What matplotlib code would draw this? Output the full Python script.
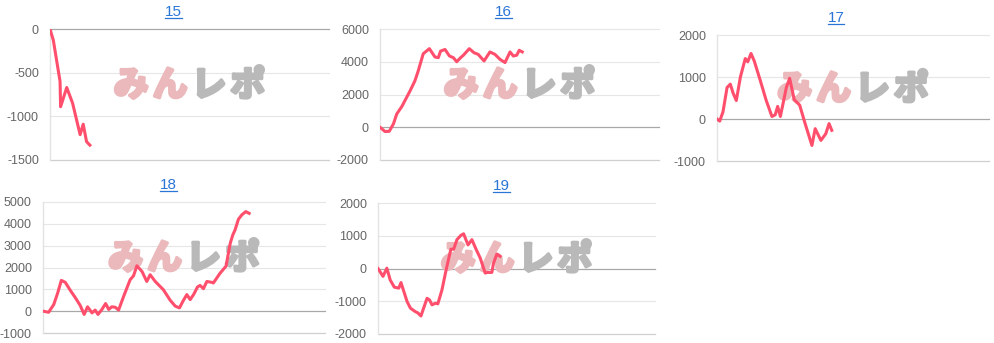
import matplotlib
matplotlib.use("Agg")
import matplotlib.pyplot as plt
from matplotlib.lines import Line2D
import matplotlib.patheffects as pe

plt.rcParams['font.family'] = ['Liberation Sans', 'DejaVu Sans']
plt.rcParams['axes.unicode_minus'] = False

# Datos de cada máquina (x en % del eje, y = diferencia de fichas)
titulos = ["15", "16", "17", "18", "19"]

x15 = [0, 1.2, 3.6, 3.8, 6.0, 8.1, 10.8, 11.9, 13.1, 14.3]
y15 = [0, -130, -600, -890, -670, -850, -1210, -1090, -1290, -1330]

x16 = [0, 1.8, 3.3, 4.8, 6.0, 7.8, 10.8, 12.5, 13.7, 15.5, 17.7, 19.7, 20.9, 21.7,
       23.3, 24.9, 26.3, 27.5, 28.9, 29.9, 32.0, 33.7, 35.2, 37.3, 39.4, 41.2, 43.0,
       44.8, 46.6, 47.8, 49.0, 49.9, 51.0]
y16 = [0, -260, -250, 200, 810, 1260, 2230, 2830, 3440, 4490, 4800, 4290, 4250, 4650,
       4750, 4350, 4250, 4000, 4250, 4400, 4800, 4550, 4450, 4050, 4600, 4450, 4150,
       3950, 4600, 4350, 4400, 4700, 4600]

x17 = [0, 1.0, 2.2, 3.7, 4.9, 5.9, 7.1, 8.6, 10.4, 11.3, 12.5, 13.7, 15.9, 18.1, 20.2,
       21.4, 22.3, 23.3, 25.5, 26.7, 28.4, 30.4, 32.4, 34.9, 36.1, 38.2, 40.0, 41.2, 42.2]
y17 = [0, -50, 170, 750, 830, 620, 440, 1000, 1440, 1360, 1560, 1380, 920, 440, 60,
       100, 300, 60, 750, 970, 460, 330, -110, -630, -230, -510, -350, -110, -270]

x18 = [0, 2.0, 3.8, 5.2, 6.5, 7.9, 9.7, 11.5, 13.2, 14.6, 15.8, 17.4, 18.5, 19.5, 20.9,
       22.2, 23.3, 24.4, 25.6, 26.8, 28.6, 30.9, 32.1, 33.3, 35.1, 36.8, 38.0, 39.8,
       42.7, 45.1, 46.9, 48.4, 49.6, 51.0, 52.2, 53.4, 54.8, 55.7, 56.9, 58.1, 59.9,
       60.4, 62.8, 64.9, 66.4, 67.3, 68.1, 69.3, 70.5, 71.9, 73.1]
y18 = [0, -50, 300, 830, 1410, 1320, 950, 610, 260, -150, 200, -80, 50, -150, 80,
       350, 80, 200, 180, 50, 680, 1440, 1620, 2080, 1820, 1360, 1670, 1360,
       980, 500, 230, 150, 450, 760, 530, 760, 1110, 1180, 1030, 1360, 1320,
       1290, 1740, 2060, 3110, 3490, 3720, 4210, 4410, 4560, 4480]

x19 = [0, 1.8, 3.2, 4.4, 5.9, 7.5, 8.3, 10.5, 11.7, 13.5, 14.3, 15.5, 17.7, 18.6, 19.5,
       20.7, 21.6, 23.1, 24.6, 26.3, 27.3, 28.5, 29.9, 30.9, 32.5, 33.9, 35.5, 36.9,
       38.7, 39.5, 41.1, 41.7, 42.9, 44.1]
y19 = [0, -240, 10, -350, -570, -600, -430, -1010, -1210, -1320, -1350, -1450, -910,
       -960, -1110, -1060, -1080, -650, -40, 590, 590, 880, 1010, 1060, 720, 880, 570,
       320, -140, -120, -120, 160, 440, 370]

ticks15 = [-1500, -1000, -500, 0]
ticks16 = [-2000, 0, 2000, 4000, 6000]
ticks17 = [-1000, 0, 1000, 2000]
ticks18 = [-1000, 0, 1000, 2000, 3000, 4000, 5000]
ticks19 = [-2000, -1000, 0, 1000, 2000]

W, H = 994, 343
fig = plt.figure(figsize=(W / 100, H / 100), dpi=100)

# Posición en píxeles de cada panel: (izq, der, arriba, abajo), título (x, línea base)
paneles = [
    (x15, y15, ticks15, (50, 329, 29, 160), (173, 16)),
    (x16, y16, ticks16, (380, 659, 29, 160), (503, 16)),
    (x17, y17, ticks17, (717, 989, 35, 161), (836, 22)),
    (x18, y18, ticks18, (43, 325, 202, 333), (168, 189)),
    (x19, y19, ticks19, (378, 655, 203, 334), (501, 190)),
]

textos_titulo = []
for (xs, ys, ticks, (l, r, t, b), (tx, ty)), titulo in zip(paneles, titulos):
    ax = fig.add_axes([l / W, 1 - b / H, (r - l) / W, (b - t) / H])
    ax.set_xlim(0, 100)
    ax.set_ylim(ticks[0], ticks[-1])
    ax.set_yticks(ticks)
    ax.set_xticks([])
    for s in ["top", "right", "bottom"]:
        ax.spines[s].set_visible(False)
    ax.spines["left"].set_color("#e3e3e3")
    ax.spines["left"].set_linewidth(1.0)
    ax.tick_params(axis="y", length=0, pad=8, labelsize=9, labelcolor="#666666")
    for v in ticks:
        if v == 0:
            ax.axhline(v, color="#a8a8a8", lw=0.9, zorder=1, clip_on=False)
        elif v == ticks[0]:
            ax.axhline(v, color="#cfcfcf", lw=0.9, zorder=1, clip_on=False)
        else:
            ax.axhline(v, color="#e6e6e6", lw=0.8, zorder=1, clip_on=False)

    # Marca de agua "みんレポ"
    colores = ["#ebb9bb", "#ebb9bb", "#b9b9b9", "#b9b9b9"]
    for i, (ch, c) in enumerate(zip("みんレポ", colores)):
        ax.annotate(ch, xy=(0.5, 0.57), xycoords="axes fraction",
                    xytext=((i - 1.5) * 28, 0), textcoords="offset points",
                    ha="center", va="center", fontsize=25, fontweight="bold",
                    color=c, family=["Noto Sans CJK JP", "DejaVu Sans"], zorder=2,
                    path_effects=[pe.withStroke(linewidth=2.5, foreground=c)])

    ax.plot(xs, ys, color="#ff4f6d", lw=2.2, solid_joinstyle="round", zorder=3)

    tt = fig.text(tx / W, 1 - ty / H, titulo, ha="center", va="baseline",
                  fontsize=11, color="#2a76d6")
    textos_titulo.append((tt, ty))

# Subrayado de los títulos
fig.canvas.draw()
rend = fig.canvas.get_renderer()
for tt, ty in textos_titulo:
    bb = tt.get_window_extent(rend)
    yl = 1 - (ty + 2) / H
    fig.add_artist(Line2D([bb.x0 / W, bb.x1 / W], [yl, yl], color="#2a76d6",
                          lw=0.9, transform=fig.transFigure))

fig.savefig("out.png", dpi=100)
